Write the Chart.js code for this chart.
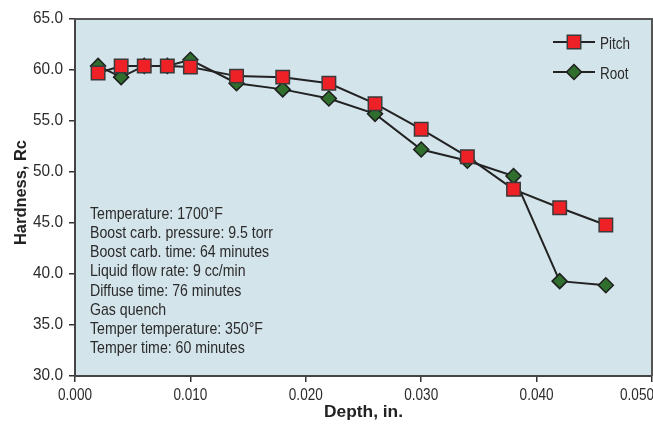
<!DOCTYPE html>
<html lang="en">
<head>
    <meta charset="UTF-8" />
    <title>Hardness vs Depth</title>
    <style>
        body { margin: 0; background: #fff; overflow: hidden; }
        #wrap { width: 653px; height: 427px; }
    </style>
</head>
<body>
    <div id="wrap"><canvas id="chart"></canvas></div>
    <script src="https://cdn.jsdelivr.net/npm/chart.js"></script>
    <script>
        // depth positions (in.)
        const depths = [0.002, 0.004, 0.006, 0.008, 0.010, 0.014, 0.018, 0.022, 0.026, 0.030, 0.034, 0.038, 0.042, 0.046];
        const pitch = [59.7, 60.4, 60.4, 60.4, 60.3, 59.4, 59.3, 58.7, 56.7, 54.2, 51.5, 48.3, 46.5, 44.8];
        const root = [60.4, 59.3, 60.4, 60.4, 61.0, 58.7, 58.1, 57.2, 55.7, 52.2, 51.1, 49.6, 39.3, 38.9];
        const xTicks = [0, 0.01, 0.02, 0.03, 0.04, 0.05];
        const yTicks = [30, 35, 40, 45, 50, 55, 60, 65];
        const notes = [
            'Temperature: 1700°F',
            'Boost carb. pressure: 9.5 torr',
            'Boost carb. time: 64 minutes',
            'Liquid flow rate: 9 cc/min',
            'Diffuse time: 76 minutes',
            'Gas quench',
            'Temper temperature: 350°F',
            'Temper time: 60 minutes'
        ];

        const FONT = '"Liberation Sans", Arial, sans-serif';
        const TEXT = '#2b2b2b';
        const toXY = (ys) => ys.map((y, i) => ({ x: depths[i], y }));

        // squeeze text horizontally so it looks like the condensed face of the original
        function squeeze(ctx, sample, width) {
            return width / ctx.measureText(sample).width;
        }
        function text(ctx, str, x, y, align, sx) {
            ctx.save();
            ctx.translate(x, y);
            ctx.scale(sx, 1);
            ctx.textAlign = align;
            ctx.fillText(str, 0, 0);
            ctx.restore();
        }

        const decor = {
            id: 'decor',
            beforeDraw(chart) {
                const { ctx, chartArea: a } = chart;
                ctx.save();
                ctx.fillStyle = '#d4e4eb';
                ctx.fillRect(a.left, a.top, a.right - a.left, a.bottom - a.top);
                ctx.restore();
            },
            beforeDatasetsDraw(chart) {
                const { ctx, chartArea: a, scales } = chart;
                ctx.save();
                // top and right frame
                ctx.strokeStyle = '#555';
                ctx.lineWidth = 2;
                ctx.beginPath();
                ctx.moveTo(a.left, a.top);
                ctx.lineTo(a.right, a.top);
                ctx.lineTo(a.right, a.bottom);
                ctx.stroke();

                ctx.fillStyle = TEXT;
                ctx.textBaseline = 'alphabetic';
                ctx.font = '17px ' + FONT;

                // notes block
                const sn = squeeze(ctx, notes[1], 183);
                notes.forEach((t, i) => text(ctx, t, 90, 218.5 + i * 19.25, 'left', sn));

                // tick labels (last one pushed inside the edge, as in the original)
                const sx = squeeze(ctx, '0.030', 34);
                xTicks.forEach((v, i) => {
                    const last = i === xTicks.length - 1;
                    const px = last ? chart.width + 1 : scales.x.getPixelForValue(v);
                    text(ctx, v.toFixed(3), px, a.bottom + 24, last ? 'right' : 'center', sx);
                });
                const sy = squeeze(ctx, '50.0', 30);
                yTicks.forEach(v => text(ctx, v.toFixed(1), 63, scales.y.getPixelForValue(v) + 3.5, 'right', sy));

                // axis titles
                ctx.fillStyle = '#222';
                ctx.font = 'bold 17px ' + FONT;
                const st = squeeze(ctx, 'Depth, in.', 79);
                text(ctx, 'Depth, in.', (a.left + a.right) / 2, 417, 'center', st);
                ctx.save();
                ctx.translate(26, 192.5);
                ctx.rotate(-Math.PI / 2);
                const sr = squeeze(ctx, 'Hardness, Rc', 105);
                text(ctx, 'Hardness, Rc', 0, 0, 'center', sr);
                ctx.restore();
                ctx.restore();
            },
            afterDraw(chart) {
                const { ctx } = chart;
                const items = [
                    { label: 'Pitch', ds: chart.data.datasets[0], y: 42 },
                    { label: 'Root', ds: chart.data.datasets[1], y: 72 }
                ];
                ctx.save();
                ctx.font = '17px ' + FONT;
                const sl = squeeze(ctx, 'Pitch', 30);
                items.forEach(it => {
                    ctx.strokeStyle = '#222';
                    ctx.lineWidth = 2;
                    ctx.beginPath();
                    ctx.moveTo(553, it.y);
                    ctx.lineTo(595, it.y);
                    ctx.stroke();
                    ctx.fillStyle = it.ds.pointBackgroundColor;
                    ctx.strokeStyle = it.ds.pointBorderColor;
                    ctx.lineWidth = it.ds.pointBorderWidth;
                    Chart.helpers.drawPoint(ctx, {
                        pointStyle: it.ds.pointStyle,
                        radius: it.ds.pointRadius,
                        borderWidth: it.ds.pointBorderWidth
                    }, 574, it.y);
                    ctx.fillStyle = TEXT;
                    ctx.textBaseline = 'alphabetic';
                    text(ctx, it.label, 600, it.y + 6.5, 'left', sl);
                });
                ctx.restore();
            }
        };

        new Chart(document.getElementById('chart'), {
            type: 'scatter',
            data: {
                datasets: [
                    {
                        label: 'Pitch',
                        data: toXY(pitch),
                        showLine: true,
                        borderColor: '#222',
                        borderWidth: 2,
                        pointStyle: 'rect',
                        pointRadius: 9.5,
                        pointBackgroundColor: '#ee2127',
                        pointBorderColor: '#3a3a3a',
                        pointBorderWidth: 1.5
                    },
                    {
                        label: 'Root',
                        data: toXY(root),
                        showLine: true,
                        borderColor: '#222',
                        borderWidth: 2,
                        pointStyle: 'rectRot',
                        pointRadius: 7.5,
                        pointBackgroundColor: '#2f6e2c',
                        pointBorderColor: '#1e1e1e',
                        pointBorderWidth: 1.5
                    }
                ]
            },
            options: {
                responsive: true,
                maintainAspectRatio: false,
                animation: false,
                layout: { autoPadding: false, padding: { top: 19, right: 1, left: 0, bottom: 0 } },
                plugins: { legend: { display: false }, tooltip: { enabled: false } },
                scales: {
                    x: {
                        type: 'linear',
                        min: 0,
                        max: 0.05,
                        ticks: { stepSize: 0.01, display: false },
                        grid: { drawOnChartArea: false, drawTicks: true, tickLength: 6, color: '#333', lineWidth: 1.5 },
                        border: { color: '#444', width: 2 },
                        afterFit(s) { s.height = 51; }
                    },
                    y: {
                        min: 30,
                        max: 65,
                        ticks: { stepSize: 5, display: false },
                        grid: { drawOnChartArea: false, drawTicks: true, tickLength: 6, color: '#333', lineWidth: 1.5 },
                        border: { color: '#444', width: 2 },
                        afterFit(s) { s.width = 75; }
                    }
                }
            },
            plugins: [decor]
        });
    </script>
</body>
</html>
